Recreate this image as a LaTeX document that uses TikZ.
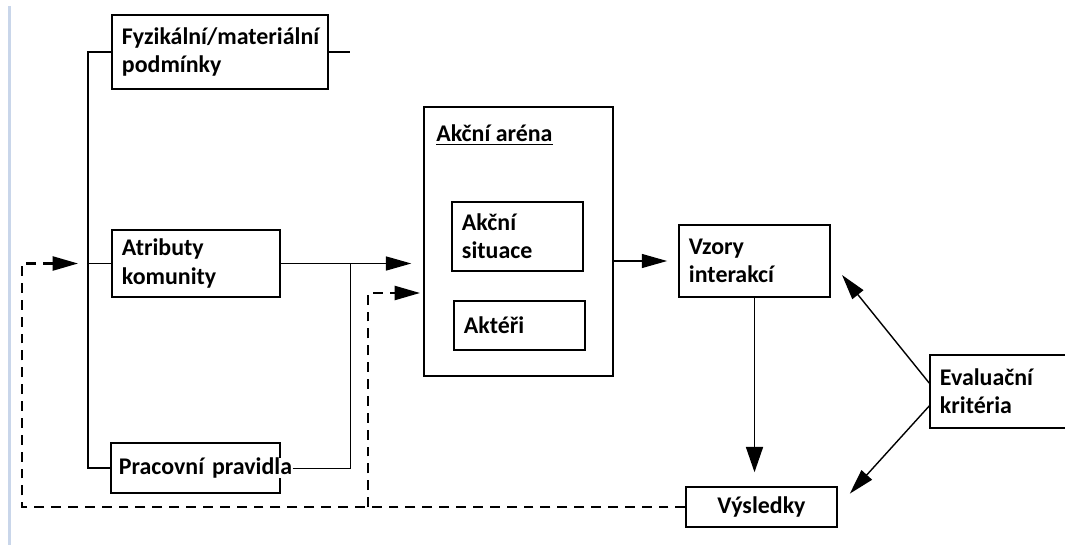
\documentclass[tikz,border=0pt]{standalone}
\usepackage{fontspec}
\setmainfont{Carlito}
\usetikzlibrary{arrows.meta}
\definecolor{barblue}{HTML}{C9D6EA}

\begin{document}
\begin{tikzpicture}[x=0.025cm,y=-0.025cm,
    font=\bfseries\fontsize{17}{20}\selectfont,
    box/.style={draw,line width=1pt,inner xsep=0.25cm,inner ysep=0pt,align=left},
    arr/.style={-{Triangle[length=18pt,width=10pt]},line width=0.8pt},
    fb/.style={arr,line width=1.5pt,dash pattern=on 7pt off 5pt}]
    \useasboundingbox (0,0) rectangle (1065,545);
    \fill[barblue] (8,6) rectangle (11,545);

    \node[box,text width=4.9cm,minimum height=1.85cm] (fyz) at (220,52) {Fyzikální/materiální\\podmínky};
    \node[box,text width=3.7cm,minimum height=1.675cm] (atr) at (196,263.5) {Atributy\\komunity};
    \node[box,inner xsep=0.2cm,text width=3.825cm,minimum height=1.25cm] (prac) at (195.5,468) {{\fboxsep=0pt\colorbox{white}{Pracovní pravidla}}};
    \node[box,minimum width=4.725cm,minimum height=6.725cm] (arena) at (518.5,241.5) {};
    \node[anchor=west,inner sep=0pt] (title) at (436,135) {\underline{Akční aréna}};
    \node[box,text width=2.775cm,minimum height=1.725cm] (sit) at (517.5,236.5) {Akční\\situace};
    \node[box,text width=2.775cm,minimum height=1.225cm] (akt) at (519.5,325.5) {Aktéři};
    \node[box,text width=3.275cm,minimum height=1.8cm] (vzory) at (754.5,261) {Vzory\\interakcí};
    \node[box,minimum width=3.775cm,minimum height=1cm] (vysl) at (761.5,507) {Výsledky};
    \node[box,text width=3cm,minimum height=1.825cm] (eval) at (1000,391.5) {Evaluační\\kritéria};

    \coordinate (trunk) at (88,0);
    \coordinate (col) at (350,0);
    \coordinate (fbL) at (22,0);
    \coordinate (fbM) at (368,0);
    \coordinate (in2) at (424,293);

    \draw[line width=0.9pt] (fyz.west) -| (trunk |- prac.west) -- (prac.west);
    \draw[line width=0.9pt] (trunk |- atr.west) -- (atr.west);
    \draw[line width=0.9pt] (fyz.east) -- (col |- fyz.east);
    \draw[line width=0.6pt] ([xshift=0.3cm]prac.east) -| (col |- atr.east);
    \draw[arr,shorten >=0.3cm] (atr.east) -- (arena.west |- atr.east);

    \draw[fb] (vysl.west) -| (fbL |- atr.west) -- ([xshift=-0.25cm]trunk |- atr.west);
    \draw[fb] (fbM |- vysl.west) |- ([xshift=-0.1cm]in2);

    \draw[arr,shorten >=0.28cm] (arena.east |- vzory.west) -- (vzory.west);
    \draw[arr,line width=1.4pt,-{Triangle[length=18pt,width=12pt]},shorten >=0.35cm] (vzory.south) -- (vzory.south |- vysl.north);
    \draw[arr,line width=1pt,shorten >=0.45cm] ([yshift=0.21cm]eval.west) -- (vzory.east);
    \draw[arr,line width=1pt,shorten >=0.45cm] ([yshift=-0.36cm]eval.west) -- (vysl.east);
\end{tikzpicture}
\end{document}
